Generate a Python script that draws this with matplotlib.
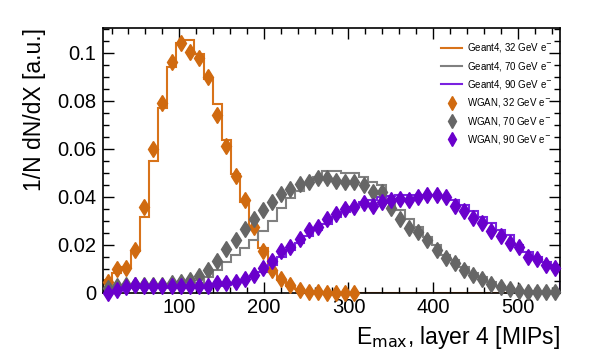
import numpy as np
import matplotlib.pyplot as plt
from matplotlib.ticker import MultipleLocator

plt.rcParams['font.family'] = ['Liberation Sans', 'DejaVu Sans']

# 50 bins between 10 and 550 MIPs
edges = np.linspace(10, 550, 51)
centers = 0.5 * (edges[:-1] + edges[1:])

# Geant4 histograms
g4_32 = [0.0054, 0.0085, 0.011, 0.0176, 0.0315, 0.055, 0.077, 0.094, 0.1043, 0.1052,
         0.0995, 0.089, 0.0786, 0.0638, 0.0495, 0.038, 0.0272, 0.0186, 0.009, 0.0055,
         0.003, 0.0015, 0.0008, 0.0004, 0.0002, 0.0001, 0.0001, 0.0001, 0.0, 0.0,
         0.0, 0.0, 0.0, 0.0, 0.0, 0.0, 0.0, 0.0, 0.0, 0.0,
         0.0, 0.0, 0.0, 0.0, 0.0, 0.0, 0.0, 0.0, 0.0, 0.0]
g4_70 = [0.001, 0.002, 0.0025, 0.003, 0.003, 0.003, 0.003, 0.003, 0.003, 0.0032,
         0.004, 0.0068, 0.0096, 0.013, 0.0158, 0.0186, 0.022, 0.026, 0.030, 0.0355,
         0.0395, 0.0425, 0.0455, 0.0485, 0.051, 0.051, 0.050, 0.050, 0.0485, 0.0464,
         0.045, 0.0374, 0.0346, 0.031, 0.0276, 0.0235, 0.020, 0.0158, 0.0138, 0.011,
         0.0085, 0.0065, 0.0045, 0.003, 0.002, 0.0012, 0.0008, 0.0004, 0.0003, 0.0002]
g4_90 = [0.001, 0.0015, 0.002, 0.002, 0.002, 0.002, 0.002, 0.002, 0.002, 0.002,
         0.002, 0.0025, 0.003, 0.0035, 0.004, 0.005, 0.0065, 0.0089, 0.0118, 0.0151,
         0.018, 0.0207, 0.0238, 0.0263, 0.0288, 0.0318, 0.0339, 0.036, 0.038, 0.0388,
         0.0401, 0.0403, 0.0408, 0.041, 0.041, 0.041, 0.0408, 0.0403, 0.0388, 0.0367,
         0.034, 0.0318, 0.029, 0.0263, 0.0242, 0.020, 0.0172, 0.0151, 0.013, 0.0117]

# WGAN points
gan_32 = [0.0047, 0.0099, 0.0106, 0.0179, 0.036, 0.0599, 0.0793, 0.0961, 0.1043, 0.1006,
          0.0977, 0.0899, 0.0742, 0.0613, 0.0487, 0.0386, 0.0275, 0.0174, 0.0096, 0.0058,
          0.0033, 0.0013, 0.0003, 0.0002, 0.0001, 0.0001, 0.0001, 0.0001]
gan_70 = [0.002, 0.003, 0.0035, 0.0035, 0.0035, 0.0035, 0.0035, 0.004, 0.0045, 0.0055,
          0.0072, 0.0094, 0.0133, 0.0182, 0.0221, 0.0267, 0.031, 0.0344, 0.0378, 0.0412,
          0.0432, 0.0453, 0.0464, 0.0478, 0.0478, 0.0467, 0.0461, 0.0461, 0.045, 0.0422,
          0.0422, 0.0353, 0.0307, 0.027, 0.0255, 0.0221, 0.0179, 0.0145, 0.0124, 0.0097,
          0.0075, 0.0058, 0.0038, 0.0026, 0.0017, 0.001, 0.0005, 0.0003, 0.0002, 0.0002]
gan_90 = [0.0, 0.0013, 0.0024, 0.0033, 0.003, 0.003, 0.003, 0.003, 0.003, 0.003,
          0.003, 0.003, 0.004, 0.004, 0.0045, 0.0058, 0.0076, 0.0105, 0.0135, 0.0175,
          0.0193, 0.0224, 0.0263, 0.0276, 0.0308, 0.0329, 0.0349, 0.0357, 0.0374, 0.0363,
          0.038, 0.0388, 0.0392, 0.0388, 0.0401, 0.0408, 0.0408, 0.0401, 0.0363, 0.0342,
          0.0311, 0.0293, 0.026, 0.0238, 0.0207, 0.019, 0.0151, 0.014, 0.0117, 0.0103]

labels_g4 = ['Geant4, 32 GeV e$^{-}$', 'Geant4, 70 GeV e$^{-}$', 'Geant4, 90 GeV e$^{-}$']
labels_gan = ['WGAN, 32 GeV e$^{-}$', 'WGAN, 70 GeV e$^{-}$', 'WGAN, 90 GeV e$^{-}$']
line_colors = ['#d8731a', '#808080', '#7a22e0']
mark_colors = ['#d06a10', '#666666', '#6a00cc']

fig = plt.figure(figsize=(6.1, 3.59), dpi=100)
ax = fig.add_axes([0.169, 0.184, 0.749, 0.738])

for vals, col, lab in zip([g4_32, g4_70, g4_90], line_colors, labels_g4):
    ax.stairs(vals, edges, color=col, lw=1.5, label=lab)
for vals, col, lab in zip([gan_32, gan_70, gan_90], mark_colors, labels_gan):
    ax.plot(centers[:len(vals)], vals, ls='none', marker='d', ms=8.5,
            color=col, mec=col, label=lab, clip_on=False, zorder=3)

ax.set_xlim(10, 550)
ax.set_ylim(0, 0.1104)
ax.xaxis.set_major_locator(MultipleLocator(100))
ax.xaxis.set_minor_locator(MultipleLocator(20))
ax.yaxis.set_major_locator(MultipleLocator(0.02))
ax.yaxis.set_minor_locator(MultipleLocator(0.005))
ax.tick_params(which='both', direction='in', top=True, right=True, labelsize=14.5)
ax.tick_params(which='major', length=8, width=1)
ax.tick_params(which='minor', length=4, width=1)
ax.tick_params(axis='y', pad=5)
ax.yaxis.set_major_formatter(plt.FuncFormatter(lambda v, p: '0' if v == 0 else f'{v:g}'))
for s in ax.spines.values():
    s.set_linewidth(1.2)

ax.set_xlabel('E$_{\\mathrm{max}}$, layer 4 [MIPs]', fontsize=16.5, loc='right', labelpad=5)
ax.set_ylabel('1/N dN/dX [a.u.]', fontsize=16.5, loc='top', labelpad=8)

ax.legend(loc='upper right', bbox_to_anchor=(0.998, 0.975), frameon=False, fontsize=7,
          handlelength=2.2, labelspacing=0.55, handletextpad=0.45, numpoints=1,
          markerscale=0.8, borderaxespad=0.3)

fig.savefig('out.png', dpi=100)
